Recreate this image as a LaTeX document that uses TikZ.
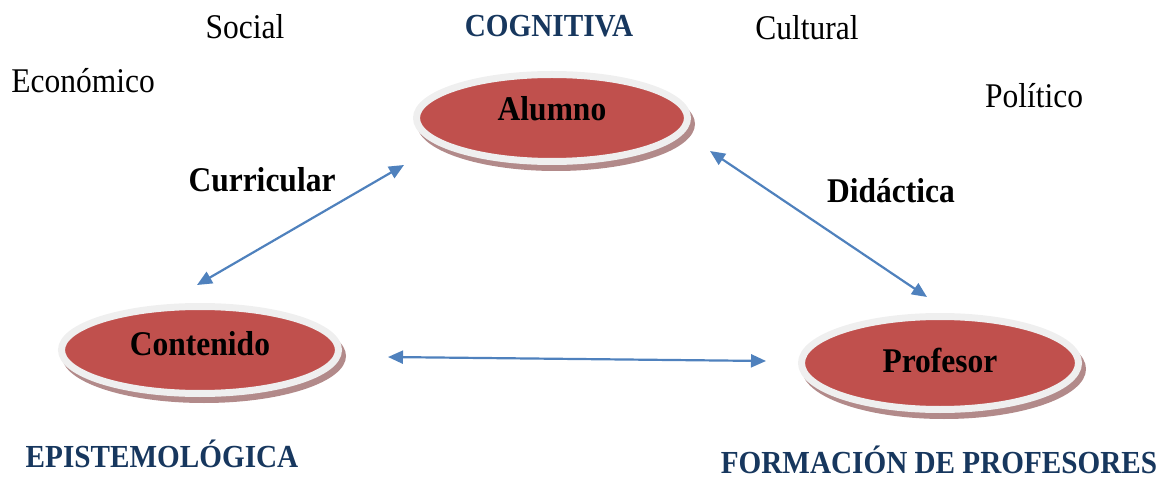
\documentclass[tikz,border=0pt]{standalone}
\usepackage{fontspec}
\usepackage{graphicx}
\setmainfont{Liberation Serif}
\usetikzlibrary{shapes.geometric,arrows.meta,backgrounds}
\definecolor{redfill}{HTML}{C0504D}
\definecolor{ringcol}{HTML}{EFEFEF}
\definecolor{shadowcol}{RGB}{178,138,138}
\definecolor{darkblue}{HTML}{17375E}
\definecolor{arrowblue}{HTML}{4F81BD}
\newcommand\vstr[1]{\scalebox{1}[1.1]{#1}}
\begin{document}
\begin{tikzpicture}[x=1pt,y=-1pt,
  plain/.style={font=\fontsize{31.5}{36}\selectfont, inner sep=0, anchor=base},
  tbold/.style={font=\bfseries\fontsize{31.5}{36}\selectfont, inner sep=0, anchor=base},
  caps/.style={font=\bfseries\fontsize{29.2}{34}\selectfont, text=darkblue, inner sep=0, anchor=base},
  oval/.style={ellipse, fill=redfill, draw=ringcol, line width=7pt, inner sep=0,
    font=\bfseries\fontsize{31.5}{36}\selectfont, text height=24pt},
  link/.style={draw=arrowblue, line width=2.2pt,
    {Triangle[length=15pt,width=13pt]}-{Triangle[length=15pt,width=13pt]}}
]
\useasboundingbox (0,0) rectangle (1159,478);

% ovals
\node[oval, minimum width=271pt, minimum height=87pt, text depth=18pt] (alum) at (552,118) {\vstr{Alumno}};
\node[oval, minimum width=277pt, minimum height=87pt, text depth=14pt] (cont) at (200,350) {\vstr{Contenido}};
\node[oval, minimum width=277pt, minimum height=93pt, text depth=6pt] (prof) at (940,363) {\vstr{Profesor}};

\begin{scope}[on background layer]
  \fill[shadowcol] ([shift={(4,6)}]alum.center) ellipse [x radius=139pt, y radius=47pt];
  \fill[shadowcol] ([shift={(4,6)}]cont.center) ellipse [x radius=142pt, y radius=47pt];
  \fill[shadowcol] ([shift={(4,6)}]prof.center) ellipse [x radius=142pt, y radius=50pt];
\end{scope}

% free text
\node[plain] (social) at (245,39) {\vstr{Social}};
\node[plain] (cultural) at (807,40) {\vstr{Cultural}};
\node[plain] (econ) at (83,93) {\vstr{Económico}};
\node[plain] (polit) at (1034,108) {\vstr{Político}};
\node[caps] (cogn) at (549,37) {\vstr{COGNITIVA}};
\node[tbold] (curr) at (262,192) {\vstr{Curricular}};
\node[tbold] (dida) at (891,203) {\vstr{Didáctica}};
\node[caps] (epis) at (162,467) {\vstr{EPISTEMOLÓGICA}};
\node[caps] (form) at (939,473) {\vstr{FORMACIÓN DE PROFESORES}};

% connector ends
\coordinate (ca) at (197,285);
\coordinate (ac) at (404,165);
\coordinate (ap) at (710,151);
\coordinate (pa) at (927,297);
\coordinate (cp) at (388,357);
\coordinate (pc) at (766,361);

\draw[link] (ca) -- (ac);
\draw[link] (ap) -- (pa);
\draw[link] (cp) -- (pc);
\end{tikzpicture}
\end{document}
